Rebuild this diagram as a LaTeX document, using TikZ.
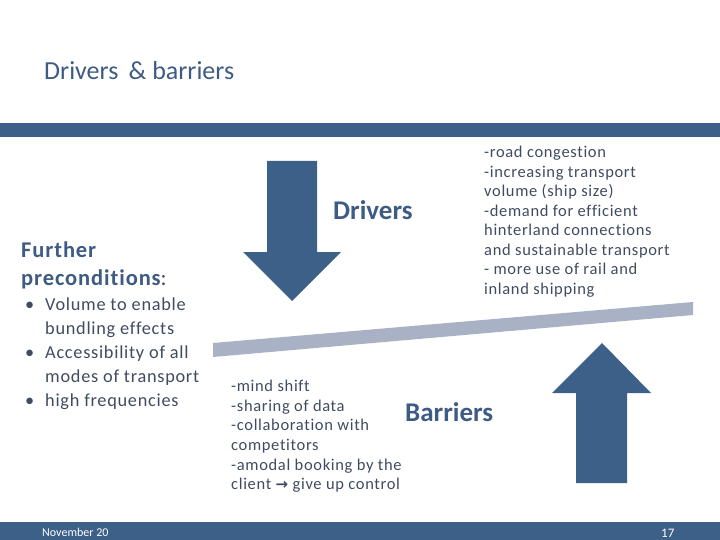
\documentclass[tikz,border=0pt]{standalone}
\usepackage{fontspec}
\setmainfont{Carlito}
\newfontfamily\bodyfont{Carlito}[LetterSpace=4, Ligatures=NoCommon]
\newfontfamily\symfont{DejaVu Sans}
\definecolor{barblue}{HTML}{3D6089}
\definecolor{headblue}{HTML}{3E5B84}
\definecolor{bodytext}{HTML}{404B60}
\definecolor{beamgray}{HTML}{A9B2C4}
\tikzset{
  txt/.style={inner sep=0pt, anchor=north west, align=left, text=bodytext},
  bigword/.style={inner sep=0pt, anchor=base west, text=headblue,
    font=\fontsize{27}{32}\selectfont\bfseries},
  foot/.style={inner sep=0pt, anchor=base west, text=white}
}
\newcommand{\bul}{\makebox[20pt][l]{\textbullet}}
\begin{document}
\begin{tikzpicture}[x=1pt,y=-1pt]
      \useasboundingbox (0,0) rectangle (720,540);
      % bars
      \fill[barblue] (0,123) rectangle (720,137);
      \fill[barblue] (0,522) rectangle (720,540);
      % title
      \node[foot, text=headblue, font=\fontsize{26}{30}\selectfont] (title) at (44,80) {Drivers \,\& barriers};
      % beam
      \fill[beamgray] (213,343) -- (693,302) -- (693,315) -- (213,357) -- cycle;
      % arrows
      \fill[barblue] (267,161) -- (317,161) -- (317,252) -- (341,252) -- (292,301)
        -- (243,252) -- (267,252) -- cycle;
      \fill[barblue] (576,483) -- (627,483) -- (627,393) -- (651,393) -- (602,343)
        -- (552,393) -- (576,393) -- cycle;
      % labels
      \node[bigword] (drivers) at (333,220) {Drivers};
      \node[bigword] (barriers) at (405,421) {Barriers};
      \node[txt, font=\bodyfont\fontsize{16.5}{19.5}\selectfont] (drvlist) at (484,146)
        {-road congestion\\-increasing transport\\volume (ship size)\\-demand for efficient\\
         hinterland connections\\and sustainable transport\\- more use of rail and\\inland shipping};
      \node[txt, font=\bodyfont\fontsize{16.5}{19.6}\selectfont] (barlist) at (231,380)
        {-mind shift\\-sharing of data\\-collaboration with\\competitors\\-amodal booking by the\\
         client {\symfont\fontsize{15}{16}\selectfont\bfseries →} give up control};
      \node[txt, text=headblue, font=\bodyfont\fontsize{22.5}{28}\selectfont\bfseries] (precond) at (21,242)
        {Further\\preconditions{\mdseries\color{bodytext}:}};
      \node[txt, font=\bodyfont\fontsize{18.3}{24}\selectfont] (prelist) at (25,298)
        {\bul Volume to enable\\\hspace*{20pt}bundling effects\\\bul Accessibility of all\\
         \hspace*{20pt}modes of transport\\\bul high frequencies};
      % footer
      \node[foot, font=\fontsize{12}{14}\selectfont] (date) at (42,536) {November 20};
      \node[foot, font=\fontsize{13}{15}\selectfont] (page) at (661,537) {17};
\end{tikzpicture}
\end{document}
